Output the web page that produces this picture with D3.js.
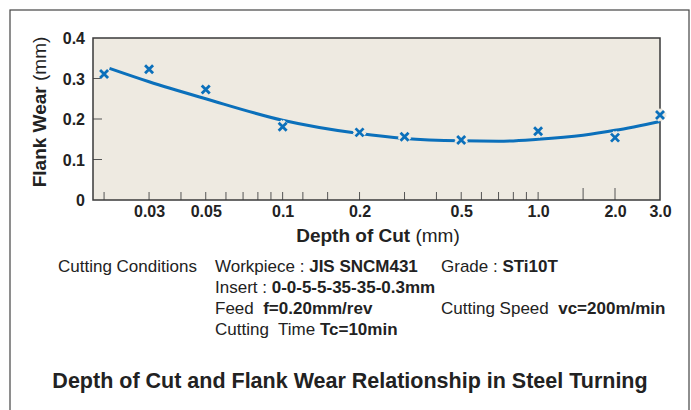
<!DOCTYPE html>
<html>
<head>
<meta charset="utf-8">
<script src="https://cdn.jsdelivr.net/npm/d3@7/dist/d3.min.js"></script>
<style>
  html, body { margin: 0; padding: 0; background: #fff; }
  svg { display: block; font-family: "Liberation Sans", Arial, sans-serif; }
  text { white-space: pre; }
</style>
</head>
<body>
<svg id="chart" width="691" height="410"></svg>
<script>
// ---- data ----
const pointDepth = [0.02, 0.03, 0.05, 0.1, 0.2, 0.3, 0.5, 1.0, 2.0, 3.0];
const pointWear  = [0.311, 0.323, 0.273, 0.181, 0.167, 0.156, 0.148, 0.170, 0.154, 0.210];
const curveDepth = [0.021, 0.03, 0.05, 0.1, 0.2, 0.3, 0.5, 0.7, 1.0, 1.5, 2.0, 3.0];
const curveWear  = [0.325, 0.292, 0.250, 0.197, 0.164, 0.152, 0.146, 0.145, 0.150, 0.160, 0.172, 0.194];
const xMinorTicks = [0.02, 0.03, 0.04, 0.05, 0.06, 0.07, 0.08, 0.09, 0.1, 0.12, 0.15, 0.2, 0.3, 0.4, 0.5, 0.6, 0.7, 0.8, 0.9, 1.0];
const xLongTicks = [1.5, 2.0];
const xTickValues = [0.03, 0.05, 0.1, 0.2, 0.5, 1.0, 2.0, 3.0];
const xTickLabels = ["0.03", "0.05", "0.1", "0.2", "0.5", "1.0", "2.0", "3.0"];
const yTickValues = [0, 0.1, 0.2, 0.3, 0.4];
const yTickLabels = ["0", "0.1", "0.2", "0.3", "0.4"];
const conditions = [
  [{t: "Cutting Conditions", b: false, col: 0}],
  [{t: "Workpiece : ", b: false, col: 1}, {t: "JIS SNCM431", b: true}, {t: "Grade : ", b: false, col: 2}, {t: "STi10T", b: true}],
  [{t: "Insert : ", b: false, col: 1}, {t: "0-0-5-5-35-35-0.3mm", b: true}],
  [{t: "Feed  ", b: false, col: 1}, {t: "f=0.20mm/rev", b: true}, {t: "Cutting Speed  ", b: false, col: 2}, {t: "vc=200m/min", b: true}],
  [{t: "Cutting  Time ", b: false, col: 1}, {t: "Tc=10min", b: true}]
];
const chartTitle = "Depth of Cut and Flank Wear Relationship in Steel Turning";

// ---- layout ----
const svg = d3.select("#chart");
const L = 93, R = 660, T = 38, B = 200;
const bg = "#eeeae1", blue = "#0b70bb", dark = "#222";

const x = d3.scaleLog().domain([0.0181, 3.0]).range([L, R]);
const y = d3.scaleLinear().domain([0, 0.4]).range([B, T]);

// outer frame
svg.append("rect").attr("x", 10).attr("y", 10).attr("width", 679).attr("height", 420)
  .attr("fill", "none").attr("stroke", "#444").attr("stroke-width", 1.2);

// plot background
svg.append("rect").attr("x", L).attr("y", T).attr("width", R - L).attr("height", B - T)
  .attr("fill", bg);

// x ticks (inward)
const xt = svg.append("g").attr("stroke", "#555").attr("stroke-width", 1);
xMinorTicks.forEach(v => xt.append("line").attr("x1", x(v)).attr("x2", x(v)).attr("y1", B).attr("y2", B - 8));
xLongTicks.forEach(v => xt.append("line").attr("x1", x(v)).attr("x2", x(v)).attr("y1", B).attr("y2", B - 12));

// y ticks (inward)
yTickValues.slice(1, -1).forEach(v => xt.append("line").attr("x1", L).attr("x2", L + 9).attr("y1", y(v)).attr("y2", y(v)));

// plot border
svg.append("rect").attr("x", L).attr("y", T).attr("width", R - L).attr("height", B - T)
  .attr("fill", "none").attr("stroke", "#3a3a3a").attr("stroke-width", 1.5);

// tick labels via axes (no lines)
const xAxis = d3.axisBottom(x).tickValues(xTickValues).tickFormat((d, i) => xTickLabels[i]).tickSize(0).tickPadding(0);
const gx = svg.append("g").attr("transform", `translate(0,${B})`).call(xAxis);
gx.select(".domain").remove();
gx.selectAll("text").attr("dy", null).attr("y", 17).attr("font-size", 16).attr("font-weight", "bold")
  .attr("fill", dark).attr("font-family", "'Liberation Sans', Arial, sans-serif");

const yAxis = d3.axisLeft(y).tickValues(yTickValues).tickFormat((d, i) => yTickLabels[i]).tickSize(0).tickPadding(8);
const gy = svg.append("g").attr("transform", `translate(${L},0)`).call(yAxis);
gy.select(".domain").remove();
gy.selectAll("text").attr("font-size", 16).attr("font-weight", "bold").attr("fill", dark)
  .attr("font-family", "'Liberation Sans', Arial, sans-serif").attr("dy", "0.36em");

// curve
const curveData = curveDepth.map((d, i) => [d, curveWear[i]]);
const line = d3.line().x(d => x(d[0])).y(d => y(d[1])).curve(d3.curveMonotoneX);
svg.append("path").datum(curveData).attr("d", line).attr("fill", "none")
  .attr("stroke", blue).attr("stroke-width", 3);

// markers with halo
const pts = pointDepth.map((d, i) => [d, pointWear[i]]);
const s = 4;
const xPath = d => {
  const cx = x(d[0]), cy = y(d[1]);
  return `M${cx - s},${cy - s}L${cx + s},${cy + s}M${cx - s},${cy + s}L${cx + s},${cy - s}`;
};
svg.append("g").selectAll("path").data(pts).join("path").attr("d", xPath)
  .attr("stroke", bg).attr("stroke-width", 8).attr("fill", "none");
svg.append("g").selectAll("path").data(pts).join("path").attr("d", xPath)
  .attr("stroke", blue).attr("stroke-width", 2.8).attr("fill", "none");

// axis titles
const xt2 = svg.append("text").attr("x", 378).attr("y", 242).attr("text-anchor", "middle")
  .attr("font-size", 19).attr("fill", dark);
xt2.append("tspan").attr("font-weight", "bold").text("Depth of Cut");
xt2.append("tspan").text(" (mm)");

const yt2 = svg.append("text").attr("transform", "translate(46,112) rotate(-90)").attr("text-anchor", "middle")
  .attr("font-size", 19).attr("fill", dark);
yt2.append("tspan").attr("font-weight", "bold").text("Flank Wear");
yt2.append("tspan").text(" (mm)");

// conditions
const colX = [58, 215, 441];
const rowY = [272, 272, 293, 314, 335];
conditions.forEach((row, ri) => {
  const yy = rowY[ri];
  let txt = null;
  row.forEach(part => {
    if (part.col !== undefined) {
      txt = svg.append("text").attr("x", colX[part.col]).attr("y", yy).attr("font-size", 17).attr("fill", dark);
    }
    txt.append("tspan").attr("font-weight", part.b ? "bold" : "normal").text(part.t);
  });
});

// title
svg.append("text").attr("x", 350).attr("y", 388).attr("text-anchor", "middle")
  .attr("font-size", 21.5).attr("font-weight", "bold").attr("fill", dark).text(chartTitle);
</script>
</body>
</html>
